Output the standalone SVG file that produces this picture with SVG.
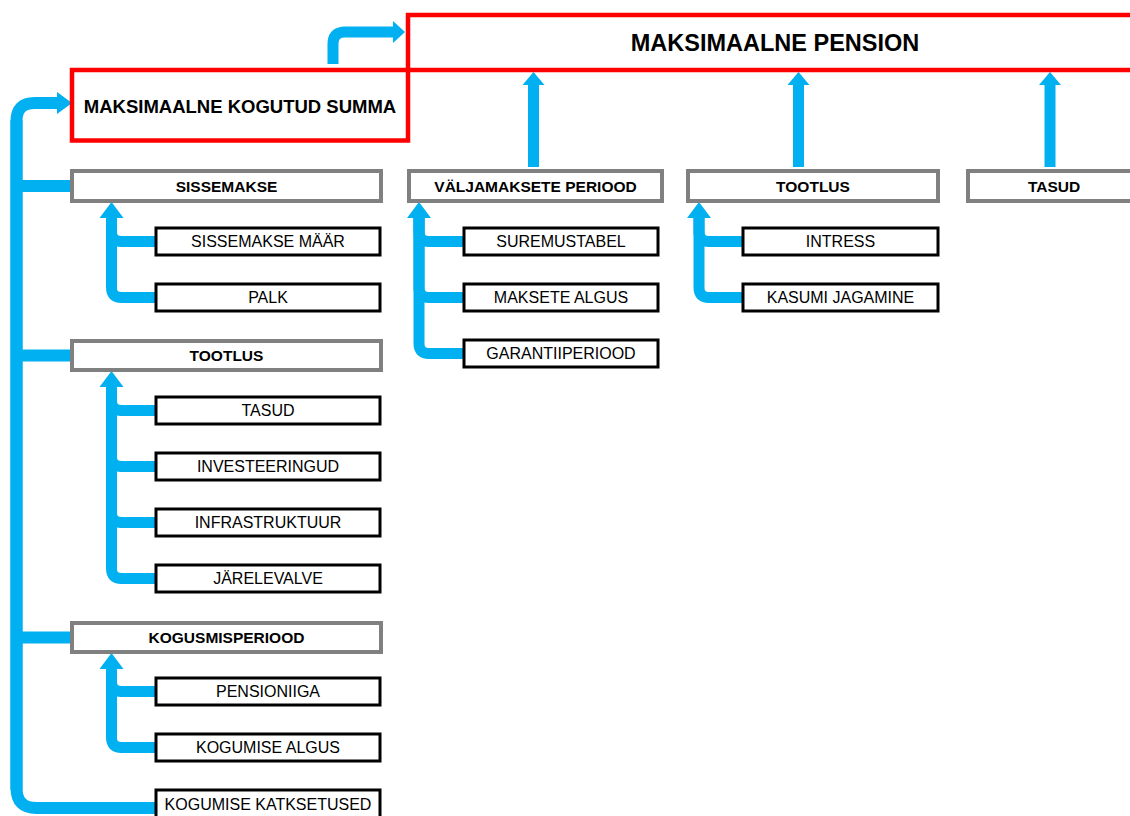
<svg xmlns="http://www.w3.org/2000/svg" width="1130" height="816" viewBox="0 0 1130 816">
<style>
.red{fill:#fff;stroke:#ff0000;stroke-width:4.5}
.gray{fill:#fff;stroke:#808080;stroke-width:4}
.blk{fill:#fff;stroke:#000;stroke-width:3}
.t{font-family:"Liberation Sans",Arial,sans-serif;fill:#000;text-anchor:middle}
.b{font-weight:bold}
.s{font-size:16px}
.h{font-size:15.5px}
.ln{fill:none;stroke:#00b0f0;stroke-width:11}
.tr{fill:none;stroke:#00b0f0;stroke-width:12}
.ah{fill:#00b0f0}
</style>
<rect width="1130" height="816" fill="#fff"/>
<g id="connectors">
  <!-- summa -> pension -->
  <path class="ln" stroke-width="10" d="M333,64 V44 Q333,32 345,32 H394"/>
  <polygon class="ah" points="405,32 393,21 393,43"/>
  <!-- main trunk -->
  <path class="tr" d="M16.5,790 V121 Q16.5,103 34.5,103 H58"/>
  <polygon class="ah" points="72,103 57,92 57,114"/>
  <path class="tr" d="M16.5,120 V788 Q16.5,808 36.5,808 H156"/>
  <path class="tr" d="M16.5,186 H72"/>
  <path class="tr" d="M16.5,355.5 H72"/>
  <path class="tr" d="M16.5,637.5 H72"/>
  <!-- top arrows to pension -->
  <path class="ln" d="M533.5,167 V83"/>
  <polygon class="ah" points="533.5,72 522.5,85 544.5,85"/>
  <path class="ln" d="M798.5,167 V83"/>
  <polygon class="ah" points="798.5,72 787.5,85 809.5,85"/>
  <path class="ln" d="M1050,167 V83"/>
  <polygon class="ah" points="1050,72 1039,85 1061,85"/>
  <!-- sissemakse subtree -->
  <polygon class="ah" points="111.5,202 99.5,218 123.5,218"/>
  <path class="ln" d="M111.5,216 V231.5 Q111.5,241.5 121.5,241.5 H156"/>
  <path class="ln" d="M111.5,216 V287.5 Q111.5,297.5 121.5,297.5 H156"/>
  <!-- tootlus (left) subtree -->
  <polygon class="ah" points="111.5,371 99.5,387 123.5,387"/>
  <path class="ln" d="M111.5,385 V400.5 Q111.5,410.5 121.5,410.5 H156"/>
  <path class="ln" d="M111.5,385 V456.5 Q111.5,466.5 121.5,466.5 H156"/>
  <path class="ln" d="M111.5,385 V512.5 Q111.5,522.5 121.5,522.5 H156"/>
  <path class="ln" d="M111.5,385 V568.5 Q111.5,578.5 121.5,578.5 H156"/>
  <!-- kogusmisperiood subtree -->
  <polygon class="ah" points="111.5,653 99.5,669 123.5,669"/>
  <path class="ln" d="M111.5,667 V681.5 Q111.5,691.5 121.5,691.5 H156"/>
  <path class="ln" d="M111.5,667 V737.5 Q111.5,747.5 121.5,747.5 H156"/>
  <!-- valjamaksete subtree -->
  <polygon class="ah" points="419,202 407,218 431,218"/>
  <path class="ln" d="M419,216 V231.5 Q419,241.5 429,241.5 H464"/>
  <path class="ln" d="M419,216 V287.5 Q419,297.5 429,297.5 H464"/>
  <path class="ln" d="M419,216 V343.5 Q419,353.5 429,353.5 H464"/>
  <!-- tootlus (right) subtree -->
  <polygon class="ah" points="699,202 687,218 711,218"/>
  <path class="ln" d="M699,216 V231.5 Q699,241.5 709,241.5 H743"/>
  <path class="ln" d="M699,216 V287.5 Q699,297.5 709,297.5 H743"/>
</g>
<g id="n-pension"><rect class="red" x="408" y="15" width="734" height="55"/><text class="t b" x="775" y="51" font-size="23.5">MAKSIMAALNE PENSION</text></g>
<g id="n-summa"><rect class="red" x="72" y="70" width="336" height="70.5"/><text class="t b" x="240" y="113" font-size="18.5">MAKSIMAALNE KOGUTUD SUMMA</text></g>
<g id="n-sissemakse"><rect class="gray" x="72" y="171" width="309" height="30"/><text class="t b h" x="226.5" y="191.5">SISSEMAKSE</text></g>
<g id="n-tootlus1"><rect class="gray" x="72" y="341" width="309" height="29"/><text class="t b h" x="226.5" y="361">TOOTLUS</text></g>
<g id="n-kogusmisperiood"><rect class="gray" x="72" y="623" width="309" height="29"/><text class="t b h" x="226.5" y="643">KOGUSMISPERIOOD</text></g>
<g id="n-valjamaksete"><rect class="gray" x="409" y="171" width="253" height="30"/><text class="t b h" x="535.5" y="191.5">VÄLJAMAKSETE PERIOOD</text></g>
<g id="n-tootlus2"><rect class="gray" x="688" y="171" width="250" height="30"/><text class="t b h" x="813" y="191.5">TOOTLUS</text></g>
<g id="n-tasud2"><rect class="gray" x="968" y="171" width="172" height="30"/><text class="t b h" x="1054" y="191.5">TASUD</text></g>
<g id="n-maar"><rect class="blk" x="156" y="228" width="224" height="27"/><text class="t s" x="268" y="247">SISSEMAKSE MÄÄR</text></g>
<g id="n-palk"><rect class="blk" x="156" y="284" width="224" height="27"/><text class="t s" x="268" y="303">PALK</text></g>
<g id="n-tasud1"><rect class="blk" x="156" y="397" width="224" height="27"/><text class="t s" x="268" y="416">TASUD</text></g>
<g id="n-investeeringud"><rect class="blk" x="156" y="453" width="224" height="27"/><text class="t s" x="268" y="472">INVESTEERINGUD</text></g>
<g id="n-infrastruktuur"><rect class="blk" x="156" y="509" width="224" height="27"/><text class="t s" x="268" y="528">INFRASTRUKTUUR</text></g>
<g id="n-jarelevalve"><rect class="blk" x="156" y="565" width="224" height="27"/><text class="t s" x="268" y="584">JÄRELEVALVE</text></g>
<g id="n-pensioniiga"><rect class="blk" x="156" y="678" width="224" height="27"/><text class="t s" x="268" y="697">PENSIONIIGA</text></g>
<g id="n-kogumisealgus"><rect class="blk" x="156" y="734" width="224" height="27"/><text class="t s" x="268" y="753">KOGUMISE ALGUS</text></g>
<g id="n-katkestused"><rect class="blk" x="156" y="790" width="224" height="30"/><text class="t s" x="268" y="810">KOGUMISE KATKSETUSED</text></g>
<g id="n-suremustabel"><rect class="blk" x="464" y="228" width="194" height="27"/><text class="t s" x="561" y="247">SUREMUSTABEL</text></g>
<g id="n-maksetealgus"><rect class="blk" x="464" y="284" width="194" height="27"/><text class="t s" x="561" y="303">MAKSETE ALGUS</text></g>
<g id="n-garantii"><rect class="blk" x="464" y="340" width="194" height="27"/><text class="t s" x="561" y="359">GARANTIIPERIOOD</text></g>
<g id="n-intress"><rect class="blk" x="743" y="228" width="195" height="27"/><text class="t s" x="840.5" y="247">INTRESS</text></g>
<g id="n-kasumi"><rect class="blk" x="743" y="284" width="195" height="27"/><text class="t s" x="840.5" y="303">KASUMI JAGAMINE</text></g>
</svg>
